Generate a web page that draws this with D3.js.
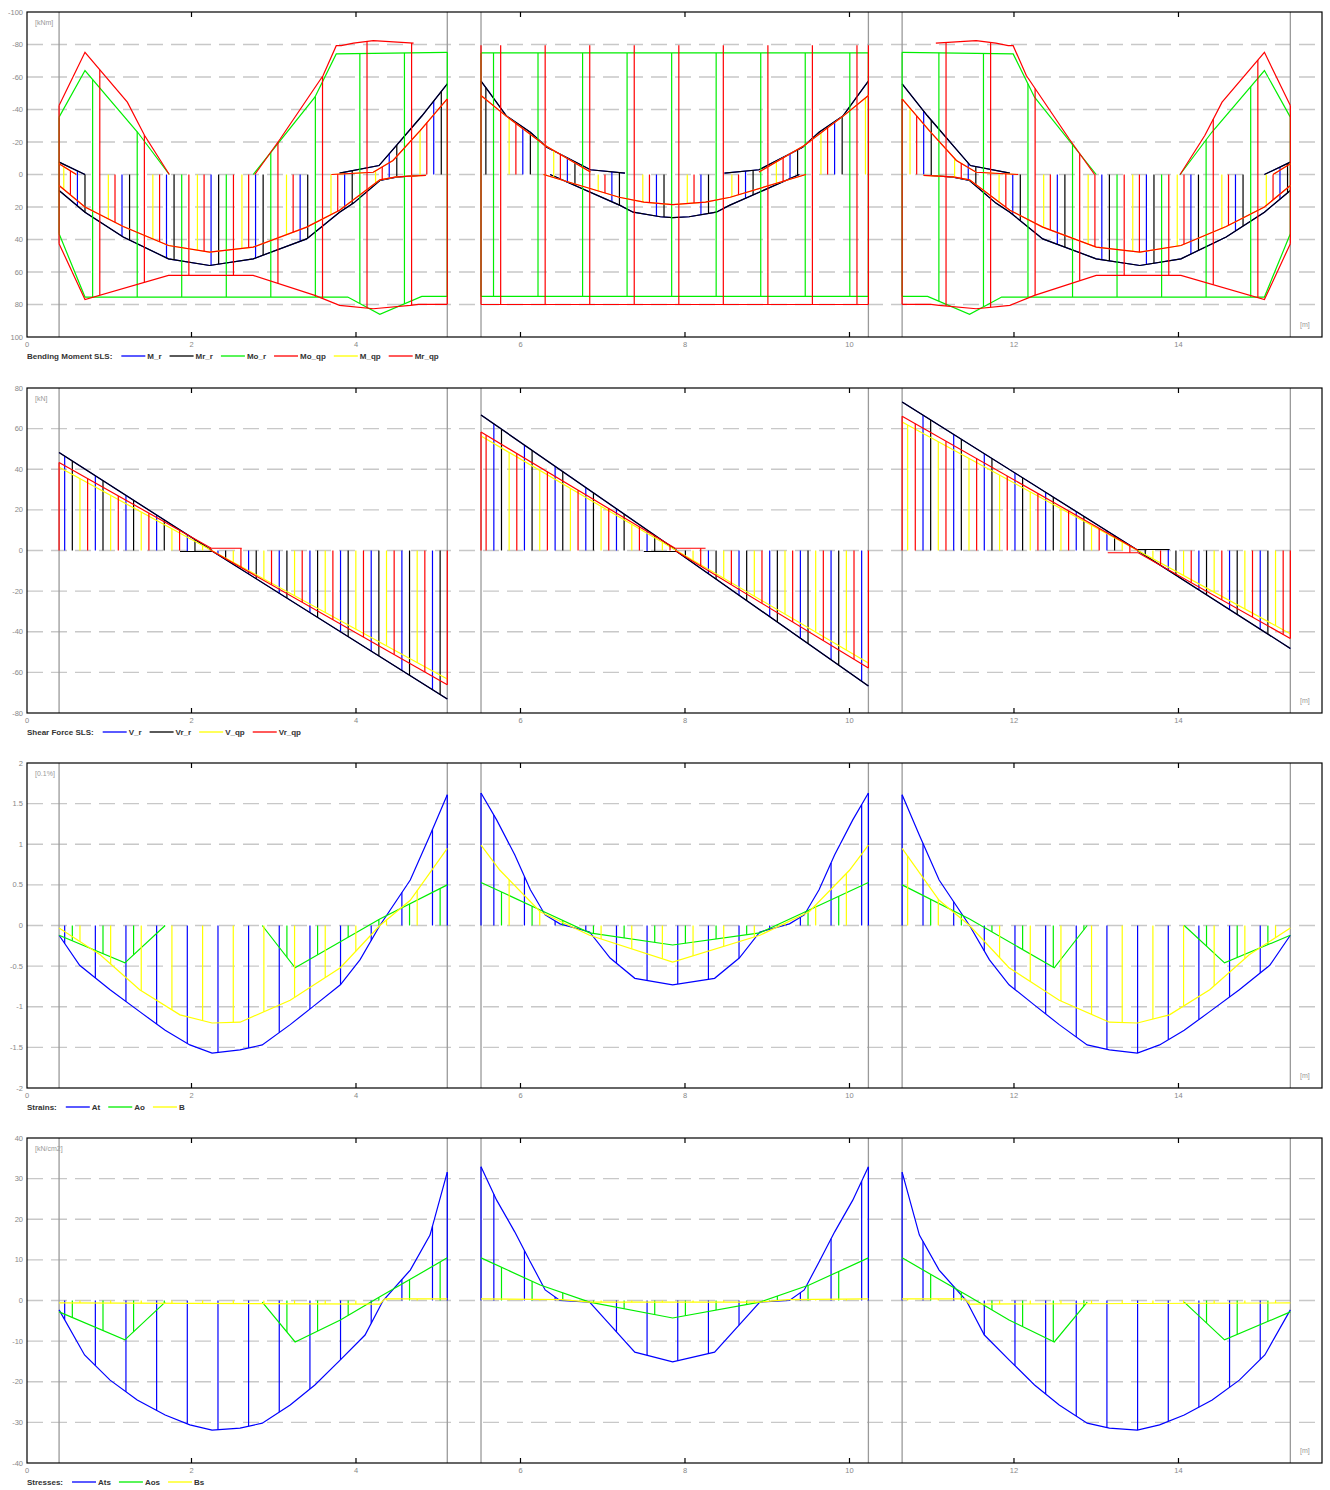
<!DOCTYPE html>
<html>
<head>
<meta charset="utf-8">
<script src="https://cdn.jsdelivr.net/npm/d3@7/dist/d3.min.js"></script>
<style>
body { margin: 0; background: #fff; }
svg text { font-family: "Liberation Sans", Arial, sans-serif; }
</style>
</head>
<body>
<svg id="chart" width="1330" height="1490"></svg>
<script>
// ---- shared x data ----
const xTicks = [0, 2, 4, 6, 8, 10, 12, 14];
const supports = [0.39, 5.11, 5.52, 10.23, 10.64, 15.36];

// ---- Bending moment SLS [kNm] ----
const momTicks = [-100, -80, -60, -40, -20, 0, 20, 40, 60, 80, 100];
const Mr_r_lo = [
  [[0.39, -7.6], [0.705, 0]],
  [[3.80, -0.8], [4.28, -5.5], [4.49, -17.8], [4.80, -36], [5.11, -55.8]],
  [[5.52, -57.4], [5.59, -52.7], [5.83, -36], [6.12, -26], [6.32, -16.8], [6.85, -2.9], [7.27, -0.8]],
  [[8.48, -0.8], [8.90, -2.9], [9.43, -16.8], [9.63, -26], [9.92, -36], [10.16, -52.7], [10.23, -57.4]],
  [[10.64, -55.8], [10.95, -36], [11.26, -17.8], [11.47, -5.5], [11.95, -0.8]],
  [[15.045, 0], [15.36, -7.6]]
];
const Mr_r_hi = [
  [[0.39, 9.8], [0.705, 23.2], [1.17, 38.5], [1.72, 51.9], [2.22, 56], [2.75, 51.9], [3.40, 39.6], [3.80, 23.2], [3.97, 17.6], [4.29, 3.7], [4.49, 1.6], [4.76, 0.6]],
  [[6.36, 0], [7.21, 19], [7.37, 23.2], [7.70, 26], [7.85, 26.5], [8.05, 26], [8.38, 23.2], [8.54, 19], [9.39, 0]],
  [[10.99, 0.6], [11.26, 1.6], [11.46, 3.7], [11.78, 17.6], [11.95, 23.2], [12.35, 39.6], [13.0, 51.9], [13.53, 56], [14.03, 51.9], [14.58, 38.5], [15.045, 23.2], [15.36, 9.8]]
];
const Mr_qp_lo = [
  [[0.39, -6.6], [0.60, 0]],
  [[3.70, 0], [4.21, -1.4], [4.45, -8.6], [4.78, -27], [5.11, -46.5]],
  [[5.52, -48.6], [5.80, -37], [6.30, -17.8], [6.85, -1.5]],
  [[8.90, -1.5], [9.45, -17.8], [9.95, -37], [10.23, -48.6]],
  [[10.64, -46.5], [10.97, -27], [11.30, -8.6], [11.54, -1.4], [12.05, 0]],
  [[15.15, 0], [15.36, -6.6]]
];
const Mr_qp_hi = [
  [[0.39, 6.8], [0.705, 20], [1.17, 32], [1.72, 43.7], [2.22, 47.8], [2.75, 44.7], [3.40, 32.4], [3.80, 22], [4.29, 3.3], [4.49, 1.5], [4.85, 0.5]],
  [[6.28, 0], [7.20, 14], [7.50, 17], [7.85, 18.5], [8.25, 17], [8.55, 14], [9.47, 0]],
  [[10.90, 0.5], [11.26, 1.5], [11.46, 3.3], [11.95, 22], [12.35, 32.4], [13.0, 44.7], [13.53, 47.8], [14.03, 43.7], [14.58, 32], [15.045, 20], [15.36, 6.8]]
];
const Mo_r_lo = [
  [[0.39, -35.3], [0.705, -64], [1.345, -26], [1.73, 0]],
  [[2.75, 0], [3.50, -47.6], [3.76, -74.2], [5.11, -75.2]],
  [[5.52, -74.8], [10.23, -74.8]],
  [[10.64, -75.2], [11.99, -74.2], [12.25, -47.6], [13.0, 0]],
  [[14.02, 0], [14.405, -26], [15.045, -64], [15.36, -35.3]]
];
const Mo_r_hi = [
  [[0.39, 36.5], [0.705, 75.4], [3.90, 75.4], [4.29, 86], [4.80, 75], [5.11, 75]],
  [[5.52, 75], [10.23, 75]],
  [[10.64, 75], [10.95, 75], [11.46, 86], [11.85, 75.4], [15.045, 75.4], [15.36, 36.5]]
];
const Mo_qp_lo = [
  [[0.39, -42.4], [0.705, -75.2], [1.22, -44.5], [1.43, -24], [1.73, 0]],
  [[2.77, 0], [3.08, -22], [3.60, -60.9], [3.76, -79.3], [3.82, -79.3], [3.97, -80.8], [4.21, -82.4], [4.70, -80.8]],
  [[11.05, -80.8], [11.54, -82.4], [11.78, -80.8], [11.93, -79.3], [11.99, -79.3], [12.15, -60.9], [12.67, -22], [12.98, 0]],
  [[14.02, 0], [14.32, -24], [14.53, -44.5], [15.045, -75.2], [15.36, -42.4]]
];
// upper end of the Mo_qp verticals in the middle span (no envelope line drawn there)
const Mo_qp_lo_ends = [
  [[5.52, -79.5], [10.23, -79.5]]
];
const Mo_qp_hi = [
  [[0.39, 42.6], [0.705, 77], [1.72, 62.1], [2.75, 62.1], [3.50, 74.4], [3.80, 80.5], [4.21, 82.6], [4.66, 80.5], [4.76, 79.9], [5.11, 79.9]],
  [[5.52, 80], [10.23, 80]],
  [[10.64, 79.9], [10.99, 79.9], [11.09, 80.5], [11.54, 82.6], [11.95, 80.5], [12.25, 74.4], [13.0, 62.1], [14.03, 62.1], [15.045, 77], [15.36, 42.6]]
];
// hatch stations [m]
const M_r_st = [0.613, 1.155, 1.696, 2.238, 2.779, 3.321, 3.862, 4.404, 4.945, 6.028, 6.570, 7.111, 7.653, 8.194, 8.736, 9.277, 9.819, 10.902, 11.444, 11.985, 12.527, 13.068, 13.610, 14.151, 14.693, 15.234];
const Mr_r_st = [0.705, 1.247, 1.788, 2.330, 2.871, 3.413, 3.954, 4.496, 5.037, 5.579, 6.120, 6.662, 7.203, 7.745, 8.286, 8.828, 9.369, 9.911, 10.994, 11.536, 12.077, 12.619, 13.160, 13.702, 14.243, 14.785, 15.326];
const Mo_r_st = [0.39, 0.798, 1.340, 1.881, 2.423, 2.964, 3.506, 4.047, 4.589, 5.11, 5.52, 5.672, 6.213, 6.755, 7.296, 7.838, 8.379, 8.921, 9.462, 10.004, 10.23, 10.64, 11.087, 11.629, 12.170, 12.712, 13.253, 13.795, 14.336, 14.878, 15.36];
const Mo_qp_st = [0.39, 0.885, 1.427, 1.968, 2.510, 3.051, 3.593, 4.134, 4.676, 5.11, 5.52, 5.759, 6.300, 6.842, 7.383, 7.925, 8.466, 9.008, 9.549, 10.091, 10.23, 10.64, 11.174, 11.716, 12.257, 12.799, 13.340, 13.882, 14.423, 14.965, 15.36];
const M_qp_st = [0.447, 0.989, 1.530, 2.072, 2.613, 3.155, 3.696, 4.238, 4.779, 5.862, 6.404, 6.945, 7.487, 8.028, 8.570, 9.111, 9.653, 10.194, 10.736, 11.278, 11.819, 12.361, 12.902, 13.444, 13.985, 14.527, 15.068];
const Mr_qp_st = [0.528, 1.070, 1.612, 2.153, 2.695, 3.236, 3.778, 4.319, 4.861, 5.11, 5.944, 6.485, 7.027, 7.568, 8.110, 8.651, 9.193, 9.734, 10.64, 10.817, 11.359, 11.901, 12.442, 12.984, 13.525, 14.067, 14.608, 15.150];

// ---- Shear force SLS [kN] ----
const shearTicks = [80, 60, 40, 20, 0, -20, -40, -60, -80];
const Vr_r_hi = [
  [[0.39, 48.2], [2.25, 0]],
  [[5.52, 66.7], [7.90, 0]],
  [[10.64, 73.1], [13.49, 0.5], [13.89, 0.5]]
];
const Vr_r_lo = [
  [[1.86, -0.5], [2.26, -0.5], [5.11, -73.1]],
  [[7.50, -0.5], [7.90, -0.5], [10.23, -66.7]],
  [[13.50, 0], [15.36, -48.2]]
];
const Vr_qp_hi = [
  [[0.39, 43.3], [2.24, 1.1], [2.61, 1.1]],
  [[5.52, 58.3], [7.88, 1.1], [8.25, 1.1]],
  [[10.64, 66.1], [13.51, 0]]
];
const Vr_qp_lo = [
  [[2.24, 0], [5.11, -66.1]],
  [[7.88, 0], [10.23, -57.9]],
  [[13.14, -1.1], [13.51, -1.1], [15.36, -43.3]]
];
const V_qp_line = [
  [[0.39, 41], [5.11, -63.3]],
  [[5.52, 56.4], [10.23, -55.4]],
  [[10.64, 63.3], [15.36, -41]]
];
const V_r_st = [0.458, 0.831, 1.203, 1.576, 1.949, 2.322, 2.694, 3.067, 3.440, 3.812, 4.185, 4.558, 4.930, 5.676, 6.048, 6.421, 6.794, 7.167, 7.539, 7.912, 8.285, 8.657, 9.030, 9.403, 9.776, 10.148, 10.894, 11.267, 11.639, 12.012, 12.385, 12.757, 13.130, 13.503, 13.876, 14.248, 14.621, 14.994];
const Vr_r_st = [0.551, 0.924, 1.296, 1.669, 2.042, 2.415, 2.787, 3.160, 3.533, 3.905, 4.278, 4.651, 5.023, 5.769, 6.141, 6.514, 6.887, 7.260, 7.632, 8.005, 8.378, 8.750, 9.123, 9.496, 9.869, 10.987, 11.360, 11.732, 12.105, 12.478, 12.850, 13.223, 13.596, 13.969, 14.341, 14.714, 15.087];
const V_qp_st = [0.644, 1.017, 1.389, 1.762, 2.135, 2.508, 2.880, 3.253, 3.626, 3.998, 4.371, 4.744, 5.862, 6.234, 6.607, 6.980, 7.353, 7.725, 8.098, 8.471, 8.843, 9.216, 9.589, 9.962, 10.707, 11.080, 11.453, 11.825, 12.198, 12.571, 12.943, 13.316, 13.689, 14.062, 14.434, 14.807, 15.180];
const Vr_qp_st = [0.39, 0.737, 1.110, 1.482, 1.855, 2.228, 2.601, 2.973, 3.346, 3.719, 4.091, 4.464, 4.837, 5.11, 5.52, 5.582, 5.955, 6.327, 6.700, 7.073, 7.446, 7.818, 8.191, 8.564, 8.936, 9.309, 9.682, 10.055, 10.23, 10.64, 10.800, 11.173, 11.546, 11.918, 12.291, 12.664, 13.036, 13.409, 13.782, 14.155, 14.527, 14.900, 15.273, 15.36];

// ---- Strains [0.1%] ----
const strainTicks = [2, 1.5, 1, 0.5, 0, -0.5, -1, -1.5, -2];
const At_line = [
  [[0.39, -0.12], [0.64, -0.49], [1.01, -0.79], [1.37, -1.06], [1.68, -1.29], [1.98, -1.47], [2.25, -1.57], [2.59, -1.53], [2.86, -1.47], [3.20, -1.22], [3.50, -0.98], [3.81, -0.73], [4.05, -0.42], [4.29, 0], [4.66, 0.56], [4.90, 1.11], [5.11, 1.61]],
  [[5.52, 1.63], [5.71, 1.3], [5.93, 0.87], [6.12, 0.44], [6.30, 0.13], [6.48, 0.02], [6.84, -0.08], [7.09, -0.4], [7.39, -0.65], [7.85, -0.73], [8.36, -0.65], [8.66, -0.4], [8.91, -0.08], [9.27, 0.02], [9.45, 0.13], [9.63, 0.44], [9.82, 0.87], [10.04, 1.3], [10.23, 1.63]],
  [[10.64, 1.61], [10.85, 1.11], [11.09, 0.56], [11.46, 0], [11.70, -0.42], [11.94, -0.73], [12.25, -0.98], [12.55, -1.22], [12.89, -1.47], [13.16, -1.53], [13.50, -1.57], [13.77, -1.47], [14.07, -1.29], [14.38, -1.06], [14.74, -0.79], [15.11, -0.49], [15.36, -0.12]]
];
const Ao_line = [
  [[0.39, -0.12], [1.19, -0.46], [1.68, 0]],
  [[2.86, 0], [3.26, -0.52], [4.29, 0.08], [5.11, 0.5]],
  [[5.52, 0.53], [6.24, 0.19], [6.84, -0.09], [7.85, -0.24], [8.91, -0.09], [9.51, 0.19], [10.23, 0.53]],
  [[10.64, 0.5], [11.46, 0.08], [12.49, -0.52], [12.89, 0]],
  [[14.07, 0], [14.56, -0.46], [15.36, -0.12]]
];
const B_line = [
  [[0.39, -0.03], [0.89, -0.36], [1.37, -0.79], [1.86, -1.10], [2.25, -1.2], [2.59, -1.19], [3.20, -0.92], [3.81, -0.52], [4.29, 0], [4.66, 0.31], [5.11, 0.95]],
  [[5.52, 0.99], [5.75, 0.68], [6.24, 0.17], [6.84, -0.12], [7.85, -0.45], [8.91, -0.12], [9.51, 0.17], [10.0, 0.68], [10.23, 0.99]],
  [[10.64, 0.95], [11.09, 0.31], [11.46, 0], [11.94, -0.52], [12.55, -0.92], [13.16, -1.19], [13.50, -1.2], [13.89, -1.10], [14.38, -0.79], [14.86, -0.36], [15.36, -0.03]]
];
const At_st = [0.458, 0.831, 1.203, 1.576, 1.949, 2.322, 2.694, 3.067, 3.440, 3.812, 4.185, 4.558, 4.930, 5.11, 5.52, 5.676, 6.048, 6.421, 6.794, 7.167, 7.539, 7.912, 8.285, 8.657, 9.030, 9.403, 9.776, 10.148, 10.23, 10.64, 10.894, 11.267, 11.639, 12.012, 12.385, 12.757, 13.130, 13.503, 13.876, 14.248, 14.621, 14.994];
const Ao_st = [0.551, 0.924, 1.296, 1.669, 2.042, 2.415, 2.787, 3.160, 3.533, 3.905, 4.278, 4.651, 5.023, 5.769, 6.141, 6.514, 6.887, 7.260, 7.632, 8.005, 8.378, 8.750, 9.123, 9.496, 9.869, 10.987, 11.360, 11.732, 12.105, 12.478, 12.850, 13.223, 13.596, 13.969, 14.341, 14.714, 15.087];
const B_st = [0.644, 1.017, 1.389, 1.762, 2.135, 2.508, 2.880, 3.253, 3.626, 3.998, 4.371, 4.744, 5.862, 6.234, 6.607, 6.980, 7.353, 7.725, 8.098, 8.471, 8.843, 9.216, 9.589, 9.962, 10.707, 11.080, 11.453, 11.825, 12.198, 12.571, 12.943, 13.316, 13.689, 14.062, 14.434, 14.807, 15.180];

// ---- Stresses [kN/cm2] ----
const stressTicks = [40, 30, 20, 10, 0, -10, -20, -30, -40];
const Ats_line = [
  [[0.39, -2.3], [0.70, -13.4], [1.01, -19.6], [1.34, -24.5], [1.68, -28.2], [1.98, -30.6], [2.25, -31.9], [2.59, -31.4], [2.86, -30.2], [3.20, -25.7], [3.50, -20.8], [3.81, -14.6], [4.11, -8.5], [4.33, 0], [4.66, 7.5], [4.90, 16.1], [5.11, 31.6]],
  [[5.52, 32.9], [5.71, 24.7], [5.93, 16.9], [6.12, 9.5], [6.30, 2.6], [6.48, 0], [6.84, -0.4], [7.09, -6], [7.39, -12.7], [7.85, -15.1], [8.36, -12.7], [8.66, -6], [8.91, -0.4], [9.27, 0], [9.45, 2.6], [9.63, 9.5], [9.82, 16.9], [10.04, 24.7], [10.23, 32.9]],
  [[10.64, 31.6], [10.85, 16.1], [11.09, 7.5], [11.42, 0], [11.64, -8.5], [11.94, -14.6], [12.25, -20.8], [12.55, -25.7], [12.89, -30.2], [13.16, -31.4], [13.50, -31.9], [13.77, -30.6], [14.07, -28.2], [14.41, -24.5], [14.74, -19.6], [15.05, -13.4], [15.36, -2.3]]
];
const Aos_line = [
  [[0.39, -2.8], [1.19, -9.7], [1.68, -0.4]],
  [[2.86, -0.4], [3.26, -10.2], [3.81, -4.8], [4.29, 0.9], [5.11, 10.5]],
  [[5.52, 10.5], [6.24, 3.8], [6.84, -0.4], [7.85, -4.3], [8.91, -0.4], [9.51, 3.8], [10.23, 10.5]],
  [[10.64, 10.5], [11.46, 0.9], [11.94, -4.8], [12.49, -10.2], [12.89, -0.4]],
  [[14.07, -0.4], [14.56, -9.7], [15.36, -2.8]]
];
const Bs_line = [
  [[0.39, -0.6], [4.29, -0.9], [4.35, 0.4], [5.11, 0.4]],
  [[5.52, 0.4], [6.5, 0.2], [6.84, -0.4], [8.91, -0.4], [9.25, 0.2], [10.23, 0.4]],
  [[10.64, 0.4], [11.40, 0.4], [11.46, -0.9], [15.36, -0.6]]
];

// ---- drawing ----
const svg = d3.select("#chart");
const x = d3.scaleLinear().domain([0, 15.745]).range([27, 1322]);

function valueAt(segs, xv) {
  for (const s of segs) {
    if (xv < s[0][0] - 1e-6 || xv > s[s.length - 1][0] + 1e-6) continue;
    for (let i = 0; i < s.length - 1; i++) {
      const a = s[i], b = s[i + 1];
      if (xv >= a[0] - 1e-6 && xv <= b[0] + 1e-6) {
        const t = b[0] === a[0] ? 0 : (xv - a[0]) / (b[0] - a[0]);
        return a[1] + t * (b[1] - a[1]);
      }
    }
  }
  return null;
}

const panels = [
  { top: 12, bottom: 337, domain: [-100, 100], ticks: momTicks, unit: "[kNm]", title: "Bending Moment SLS:",
    series: [
      { name: "M_r", color: "#0000ff", lo: Mr_r_lo, hi: Mr_r_hi, st: M_r_st },
      { name: "Mr_r", color: "#000000", lo: Mr_r_lo, hi: Mr_r_hi, st: Mr_r_st },
      { name: "Mo_r", color: "#00ee00", lo: Mo_r_lo, hi: Mo_r_hi, st: Mo_r_st },
      { name: "Mo_qp", color: "#ff0000", lo: Mo_qp_lo, hi: Mo_qp_hi, st: Mo_qp_st, loExtra: Mo_qp_lo_ends },
      { name: "M_qp", color: "#ffff00", lo: Mr_qp_lo, hi: Mr_qp_hi, st: M_qp_st },
      { name: "Mr_qp", color: "#ff0000", lo: Mr_qp_lo, hi: Mr_qp_hi, st: Mr_qp_st }
    ] },
  { top: 388, bottom: 713, domain: [80, -80], ticks: shearTicks, unit: "[kN]", title: "Shear Force SLS:",
    series: [
      { name: "V_r", color: "#0000ff", lo: Vr_r_lo, hi: Vr_r_hi, st: V_r_st },
      { name: "Vr_r", color: "#000000", lo: Vr_r_lo, hi: Vr_r_hi, st: Vr_r_st },
      { name: "V_qp", color: "#ffff00", lo: [], hi: V_qp_line, st: V_qp_st },
      { name: "Vr_qp", color: "#ff0000", lo: Vr_qp_lo, hi: Vr_qp_hi, st: Vr_qp_st }
    ] },
  { top: 763, bottom: 1088, domain: [2, -2], ticks: strainTicks, unit: "[0.1%]", title: "Strains:",
    series: [
      { name: "At", color: "#0000ff", lo: [], hi: At_line, st: At_st },
      { name: "Ao", color: "#00ee00", lo: [], hi: Ao_line, st: Ao_st },
      { name: "B", color: "#ffff00", lo: [], hi: B_line, st: B_st }
    ] },
  { top: 1138, bottom: 1463, domain: [40, -40], ticks: stressTicks, unit: "[kN/cm2]", title: "Stresses:",
    series: [
      { name: "Ats", color: "#0000ff", lo: [], hi: Ats_line, st: At_st },
      { name: "Aos", color: "#00ee00", lo: [], hi: Aos_line, st: Ao_st },
      { name: "Bs", color: "#ffff00", lo: [], hi: Bs_line, st: B_st }
    ] }
];

panels.forEach(function(p) {
  const y = d3.scaleLinear().domain(p.domain).range([p.top, p.bottom]);
  const g = svg.append("g");

  // grid
  g.selectAll(".grid").data(p.ticks.slice(1, -1)).enter().append("line")
    .attr("x1", x.range()[0]).attr("x2", x.range()[1])
    .attr("y1", function(d) { return y(d); }).attr("y2", function(d) { return y(d); })
    .attr("stroke", "#c8c8c8").attr("stroke-width", 1.3).attr("stroke-dasharray", "16,8");

  // supports
  g.selectAll(".sup").data(supports).enter().append("line")
    .attr("x1", function(d) { return x(d); }).attr("x2", function(d) { return x(d); })
    .attr("y1", p.top).attr("y2", p.bottom)
    .attr("stroke", "#9a9a9a").attr("stroke-width", 1.3);

  const line = d3.line().x(function(d) { return x(d[0]); }).y(function(d) { return y(d[1]); });

  p.series.forEach(function(s) {
    const sg = g.append("g");
    const loAll = s.loExtra ? s.lo.concat(s.loExtra) : s.lo;
    // hatch
    s.st.forEach(function(xv) {
      const a = valueAt(loAll, xv), b = valueAt(s.hi, xv);
      if (a === null && b === null) return;
      sg.append("line")
        .attr("x1", x(xv)).attr("x2", x(xv))
        .attr("y1", y(a === null ? 0 : a)).attr("y2", y(b === null ? 0 : b))
        .attr("stroke", s.color).attr("stroke-width", 1.2);
    });
    // envelopes
    s.lo.concat(s.hi).forEach(function(seg) {
      sg.append("path").attr("d", line(seg))
        .attr("fill", "none").attr("stroke", s.color).attr("stroke-width", 1.2);
    });
  });

  // frame
  g.append("rect")
    .attr("x", x.range()[0]).attr("y", p.top)
    .attr("width", x.range()[1] - x.range()[0]).attr("height", p.bottom - p.top)
    .attr("fill", "none").attr("stroke", "#000").attr("stroke-width", 1.2);

  // x ticks (inside, top and bottom)
  xTicks.slice(1).forEach(function(t) {
    g.append("line").attr("x1", x(t)).attr("x2", x(t)).attr("y1", p.top).attr("y2", p.top + 5)
      .attr("stroke", "#000").attr("stroke-width", 1.2);
    g.append("line").attr("x1", x(t)).attr("x2", x(t)).attr("y1", p.bottom).attr("y2", p.bottom - 5)
      .attr("stroke", "#000").attr("stroke-width", 1.2);
  });
  g.selectAll(".xl").data(xTicks).enter().append("text")
    .attr("x", function(d) { return x(d); }).attr("y", p.bottom + 10)
    .attr("text-anchor", "middle").attr("font-size", "7.5px").attr("fill", "#888")
    .text(function(d) { return d; });

  // y tick labels
  g.selectAll(".yl").data(p.ticks).enter().append("text")
    .attr("x", 23).attr("y", function(d) { return y(d) + 2.5; })
    .attr("text-anchor", "end").attr("font-size", "7.5px").attr("fill", "#888")
    .text(function(d) { return d; });

  // units
  g.append("text").attr("x", 35).attr("y", p.top + 13).attr("font-size", "7px").attr("fill", "#999").text(p.unit);
  g.append("text").attr("x", 1300).attr("y", p.bottom - 10).attr("font-size", "7px").attr("fill", "#999").text("[m]");

  // legend
  const ly = p.bottom + 19;
  const title = g.append("text").attr("x", 27).attr("y", ly + 3).attr("font-size", "8px")
    .attr("font-weight", "bold").attr("fill", "#333").text(p.title);
  let lx = 27 + title.node().getComputedTextLength() + 9;
  p.series.forEach(function(s) {
    g.append("line").attr("x1", lx).attr("x2", lx + 24).attr("y1", ly).attr("y2", ly)
      .attr("stroke", s.color).attr("stroke-width", 1.3);
    const t = g.append("text").attr("x", lx + 26).attr("y", ly + 3).attr("font-size", "8px")
      .attr("font-weight", "bold").attr("fill", "#333").text(s.name);
    lx += 26 + t.node().getComputedTextLength() + 8;
  });
});
</script>
</body>
</html>
